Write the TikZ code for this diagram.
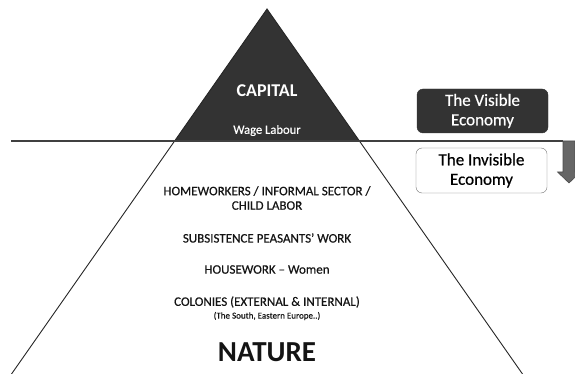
\documentclass[tikz,border=0pt]{standalone}
\usepackage{fontspec}
\setmainfont{Carlito}
\newfontfamily\slideface[FakeBold=0.5]{Carlito}
\usepackage{tikz}
\usetikzlibrary{shapes.geometric, arrows, positioning, calc}
\definecolor{capitalGrey}{HTML}{333333}
\definecolor{arrowGrey}{HTML}{666666}
\tikzstyle{layer} = [text centered, align=center, inner sep=0pt, text=black!92, font=\slideface\fontsize{13}{14.5}\selectfont]
\tikzstyle{onTop} = [text centered, inner sep=0pt, text=white]
\tikzstyle{visibleBox} = [rectangle, rounded corners=6pt, minimum width=131pt, minimum height=44pt, align=center, fill=capitalGrey, draw=capitalGrey, text=white, font=\slideface\fontsize{17}{19.5}\selectfont]
\tikzstyle{invisibleBox} = [rectangle, rounded corners=6pt, minimum width=131pt, minimum height=45pt, align=center, fill=white, draw=black!55, text=black, font=\slideface\fontsize{17}{19.5}\selectfont]
\tikzstyle{line} = [line width=0.9pt, draw=black!85]
\tikzstyle{waterline} = [line width=1.4pt, draw=black!75]

\begin{document}
\begin{tikzpicture}[x=1pt, y=-1pt, node distance=31pt]
	\useasboundingbox (0,0) rectangle (575,374);
	\clip (0,0) rectangle (575,374);

	% the pyramid and the line it stands across
	\coordinate (apex) at (267,9);
	\coordinate (baseLeft) at (11.5,374);
	\coordinate (baseRight) at (522.5,374);
	\coordinate (waterLeft) at (11,141);
	\coordinate (waterRight) at (563,141);
	\fill [capitalGrey] (apex) -- ($(apex)!{132/365}!(baseLeft)$) -- ($(apex)!{132/365}!(baseRight)$) -- cycle;
	\draw [line] (baseLeft) -- (apex) -- (baseRight);
	\draw [waterline] (waterLeft) -- (waterRight);

	% arrow going down into the invisible part
	\fill [arrowGrey, draw=black!70, line width=0.6pt] (563,141) -- (575,141) -- (575,172) -- (580.5,172) -- (569,183) -- (557.5,172) -- (563,172) -- cycle;

	\node (capital) [onTop, font=\bfseries\fontsize{18}{20}\selectfont] at (267,91) {CAPITAL};
	\node (wage) [onTop, below of=capital, yshift=-8.5pt, font=\slideface\fontsize{12.6}{14}\selectfont] {Wage Labour};

	\node (homeworkers) [layer, below of=wage, yshift=-36.5pt] {HOMEWORKERS / INFORMAL SECTOR /\\CHILD LABOR};
	\node (subsistence) [layer, below of=homeworkers, yshift=-9pt] {SUBSISTENCE PEASANTS’ WORK};
	\node (housework) [layer, below of=subsistence, yshift=-0.5pt] {HOUSEWORK – Women};
	\node (colonies) [layer, below of=housework, yshift=-1.5pt] {COLONIES (EXTERNAL \& INTERNAL)};
	\node (south) [layer, below of=colonies, yshift=17pt, font=\slideface\fontsize{9}{10}\selectfont] {(The South, Eastern Europe..)};
	\node (nature) [layer, below of=south, yshift=-5pt, font=\bfseries\fontsize{29}{32}\selectfont] {NATURE};

	\node (visible) [visibleBox] at (482.5,111) {The Visible\\Economy};
	\node (invisible) [invisibleBox, below of=visible, yshift=-28.5pt, xshift=-1pt] {The Invisible\\Economy};
\end{tikzpicture}
\end{document}
